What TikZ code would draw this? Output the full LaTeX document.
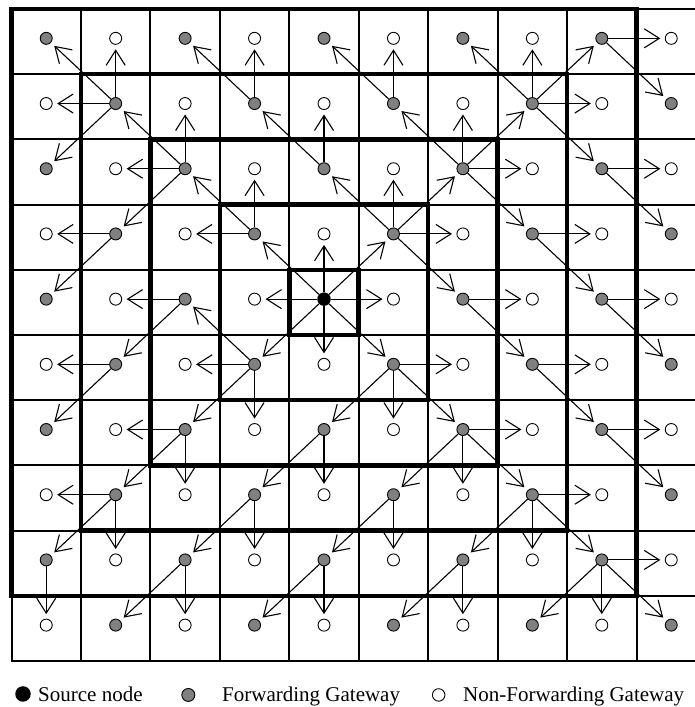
\documentclass[tikz,border=0pt]{standalone}
\usepackage{fontspec}
\setmainfont{Liberation Serif}
\usetikzlibrary{arrows.meta}

\begin{document}
\begin{tikzpicture}[x=69.45pt, y=-65.2pt,
    cell/.style={line width=2pt},
    ring/.style={line width=4.5pt},
    fwd/.style={circle, draw, line width=0.9pt, fill=gray, minimum size=12pt, inner sep=0pt},
    nfwd/.style={circle, draw, line width=0.9pt, fill=white, minimum size=12pt, inner sep=0pt},
    src/.style={circle, fill=black, minimum size=13.5pt, inner sep=0pt},
    flood/.style={line width=1.1pt, -{Straight Barb[length=15pt, width=19pt]}, shorten >=4.5pt},
    legend/.style={anchor=base west, inner sep=0pt, font=\fontsize{21}{25}\selectfont}]

    % Frame
    \useasboundingbox (-0.1656,-0.138) rectangle (9.842,10.706);
    \clip (-0.1656,-0.138) rectangle (9.842,10.706);

    % Cells
    \draw[cell] (0,0) rectangle (10,10);
    \foreach \i in {1,...,9} {
        \draw[cell] (\i,0) -- (\i,10);
        \draw[cell] (0,\i) -- (10,\i);
    }

    % Rings round the source
    \foreach \k in {0,...,4}
        \draw[ring] (4-\k,4-\k) rectangle (5+\k,5+\k);

    % Gateways
    \foreach \c in {0,...,9}
        \foreach \r in {0,...,9} {
            \pgfmathtruncatemacro{\odd}{mod(\c+\r,2)}
            \def\kind{fwd}
            \ifnum\odd=1 \def\kind{nfwd}\fi
            \ifnum\c\r=44 \def\kind{src}\fi
            \node[\kind] (n\c\r) at (\c+0.5,\r+0.45) {};
        }

    % Flooding
    \foreach \a/\b in {44/34, 44/54, 44/43, 44/45, 44/33, 44/53, 44/35, 44/55,
        33/32, 33/23, 33/22, 22/21, 22/12, 22/11, 22/13,
        11/10, 11/01, 11/00, 11/02, 13/03, 13/04,
        53/52, 53/42, 53/62, 53/63, 53/64, 42/41, 42/31, 31/30, 31/20,
        62/51, 62/61, 62/71, 62/72, 62/73, 51/50, 51/40,
        71/70, 71/60, 71/80, 71/81, 71/82, 80/90, 80/91, 82/92, 82/93,
        73/83, 73/84, 84/94, 84/95, 64/74, 64/75, 75/85, 75/86, 86/96, 86/97,
        35/24, 35/25, 35/26, 35/36, 24/14, 24/15, 15/05, 15/06,
        26/16, 26/27, 26/17, 17/07, 17/18, 17/08, 08/09,
        55/65, 55/46, 55/56, 55/66, 46/47, 46/37, 37/38, 37/28, 28/29, 28/19,
        66/76, 66/67, 66/77, 66/57, 57/58, 57/48, 48/49, 48/39,
        77/87, 77/68, 77/78, 77/88, 68/69, 68/59,
        88/98, 88/79, 88/89, 88/99}
        \draw[flood] (n\a) -- (n\b);

    % Legend
    \node[src, minimum size=15.5pt] (keysrc) at (0.1656,10.506) {};
    \node[legend] (txtsrc) at (0.3816,10.624) {Source node};
    \node[fwd, minimum size=13pt] (keyfwd) at (2.546,10.521) {};
    \node[legend] (txtfwd) at (3.031,10.624) {Forwarding Gateway};
    \node[nfwd, minimum size=12.5pt] (keynfwd) at (6.151,10.521) {};
    \node[legend] (txtnfwd) at (6.501,10.624) {Non-Forwarding Gateway};
\end{tikzpicture}
\end{document}
